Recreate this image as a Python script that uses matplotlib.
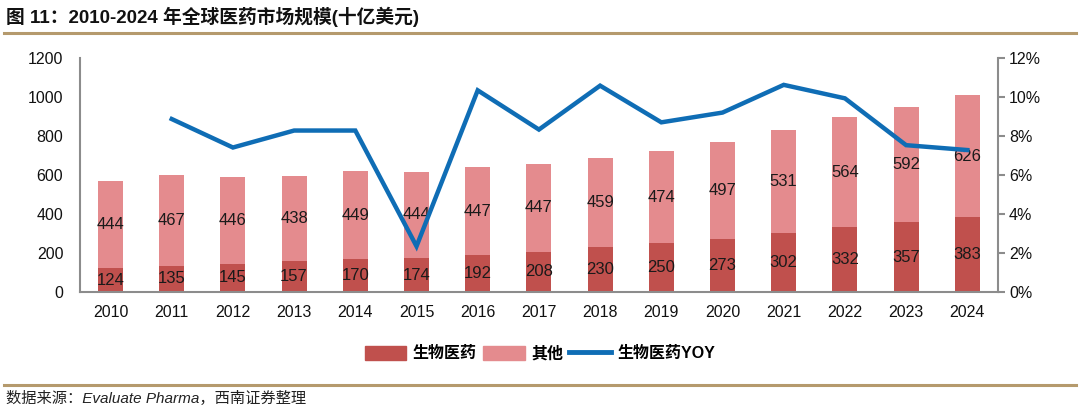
import matplotlib
matplotlib.use("Agg")
import matplotlib.pyplot as plt
import numpy as np
from matplotlib.lines import Line2D
from matplotlib.patches import Patch

plt.rcParams['font.family'] = ['Liberation Sans', 'Noto Sans CJK SC', 'DejaVu Sans']

years = ['2010', '2011', '2012', '2013', '2014', '2015', '2016', '2017', '2018', '2019',
         '2020', '2021', '2022', '2023', '2024']
bio = [124, 135, 145, 157, 170, 174, 192, 208, 230, 250, 273, 302, 332, 357, 383]
other = [444, 467, 446, 438, 449, 444, 447, 447, 459, 474, 497, 531, 564, 592, 626]
yoy = [None, 8.87, 7.41, 8.28, 8.28, 2.35, 10.34, 8.33, 10.58, 8.70, 9.20, 10.62, 9.93, 7.53, 7.28]

c_bio = '#c0504d'
c_other = '#e48b8e'
c_line = '#0f6db5'
spine_c = '#8c8c8c'

fig = plt.figure(figsize=(10.8, 4.08), dpi=100)
ax = fig.add_axes([0.074, 0.284, 0.850, 0.574])
x = np.arange(len(years))
w = 0.41
ax.bar(x, bio, w, color=c_bio, zorder=2)
ax.bar(x, other, w, bottom=bio, color=c_other, zorder=2)
for i in range(len(years)):
    ax.text(x[i], bio[i] / 2, str(bio[i]), ha='center', va='center', fontsize=12, color='#1a1a1a', zorder=4)
    ax.text(x[i], bio[i] + other[i] / 2, str(other[i]), ha='center', va='center', fontsize=12, color='#1a1a1a', zorder=4)
ax.set_xlim(-0.5, len(years) - 0.5)
ax.set_ylim(0, 1200)
ax.set_yticks(np.arange(0, 1201, 200))
ax.set_xticks(x)
ax.set_xticklabels(years)
ax.tick_params(axis='both', length=0, labelsize=11.5, colors='#111111')
ax.tick_params(axis='y', pad=12)
ax.tick_params(axis='x', pad=9)
for s in ['top', 'right']:
    ax.spines[s].set_visible(False)
for s in ['left', 'bottom']:
    ax.spines[s].set_color(spine_c)
    ax.spines[s].set_linewidth(1.5)

ax2 = ax.twinx()
xs = [x[i] for i in range(len(years)) if yoy[i] is not None]
ys = [v for v in yoy if v is not None]
ax2.plot(xs, ys, color=c_line, lw=3.2, zorder=3, solid_joinstyle='miter')
ax2.set_ylim(0, 12)
ax2.set_yticks(np.arange(0, 13, 2))
ax2.set_yticklabels([f'{v}%' for v in range(0, 13, 2)])
ax2.tick_params(axis='y', length=5, width=1.5, color=spine_c, labelsize=11.5, colors='#111111', pad=3)
ax2.tick_params(axis='y', colors=spine_c, labelcolor='#111111')
for s in ['top', 'left', 'bottom']:
    ax2.spines[s].set_visible(False)
ax2.spines['right'].set_color(spine_c)
ax2.spines['right'].set_linewidth(1.5)

# title
fig.text(0.006, 0.958, '图 11：2010-2024 年全球医药市场规模(十亿美元)', fontsize=13.5, fontweight='bold',
         ha='left', va='center', color='#111111')
fig.add_artist(Line2D([0.004, 0.996], [0.918, 0.918], color='#b59a6d', lw=2.2))

# legend
handles = [Patch(color=c_bio), Patch(color=c_other), Line2D([0], [0], color=c_line, lw=3.5)]
fig.legend(handles, ['生物医药', '其他', '生物医药YOY'], loc='center', bbox_to_anchor=(0.5, 0.133),
           ncol=3, frameon=False, handlelength=2.6, handleheight=0.9,
           columnspacing=0.4, handletextpad=0.4, prop={'weight': 'bold', 'size': 11.5})

# footer
fig.add_artist(Line2D([0.004, 0.996], [0.056, 0.056], color='#b59a6d', lw=2.2))
fig.text(0.006, 0.024, '数据来源：Evaluate Pharma，西南证券整理', fontsize=11, style='italic',
         ha='left', va='center', color='#222222')

fig.savefig('out.png', dpi=100)
